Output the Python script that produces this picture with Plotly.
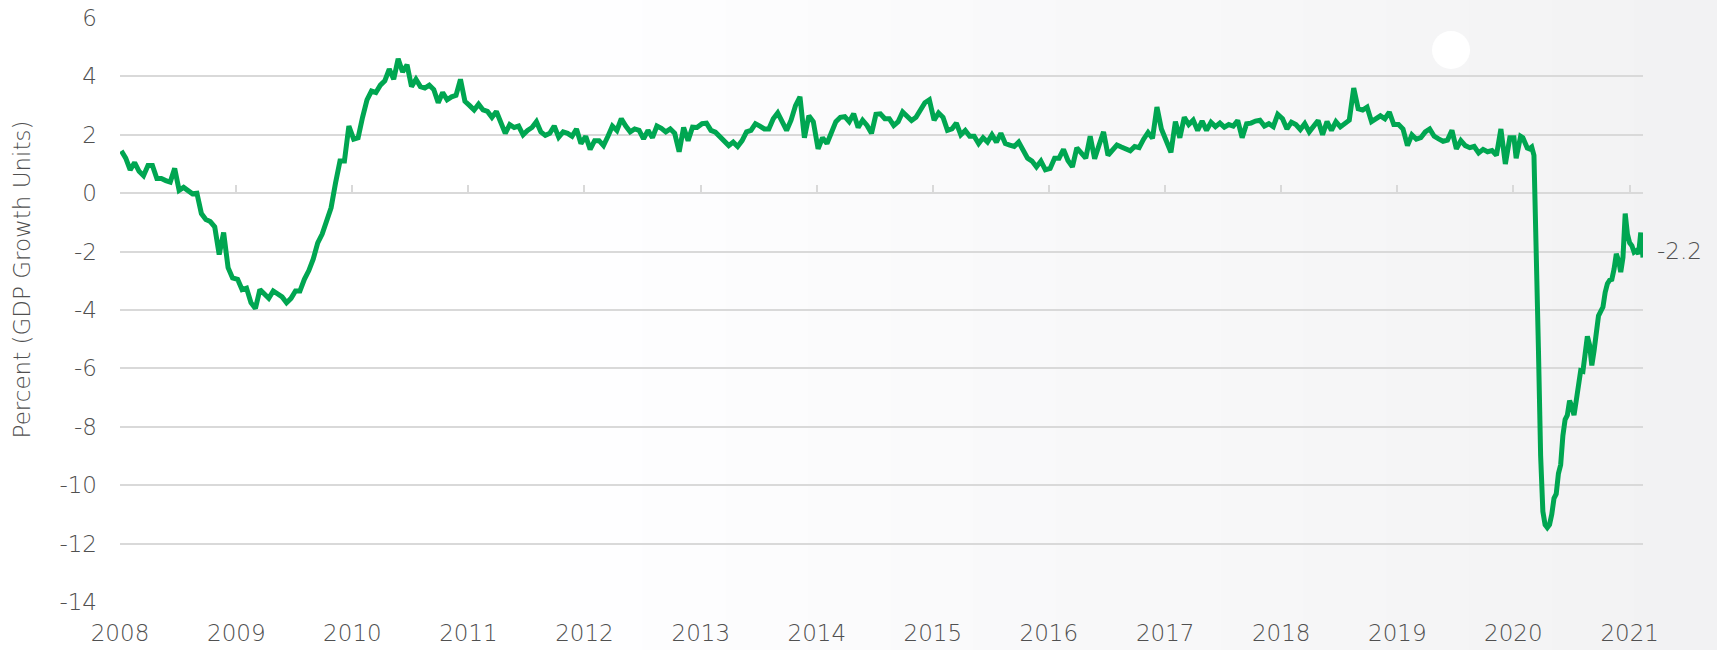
import pandas as pd
import plotly.graph_objects as go

# Fortnightly readings, one list per calendar year (percent, GDP growth units)
v2008 = [1.45, 1.2, 0.8, 1.05, 0.75, 0.6, 0.95, 0.95, 0.5, 0.5, 0.43, 0.38, 0.85,
         0.1, 0.2, 0.1, -0.02, 0.0, -0.7, -0.9, -0.97, -1.15, -2.1, -1.35, -2.55, -2.9]
v2009 = [-2.95, -3.3, -3.25, -3.75, -3.95, -3.3, -3.45, -3.6, -3.35, -3.45, -3.55, -3.75, -3.6,
         -3.35, -3.35, -2.95, -2.65, -2.25, -1.7, -1.4, -0.9, -0.5, 0.35, 1.1, 1.1, 2.3]
v2010 = [1.85, 1.9, 2.6, 3.2, 3.5, 3.45, 3.7, 3.85, 4.25, 3.9, 4.6, 4.15, 4.4,
         3.65, 3.9, 3.65, 3.6, 3.7, 3.55, 3.1, 3.45, 3.2, 3.3, 3.35, 3.9, 3.15]
v2011 = [3.0, 2.85, 3.05, 2.85, 2.8, 2.6, 2.8, 2.45, 2.05, 2.35, 2.25, 2.3, 2.0,
         2.15, 2.25, 2.45, 2.1, 1.98, 2.05, 2.3, 1.92, 2.1, 2.05, 1.95, 2.2, 1.7]
v2012 = [1.95, 1.5, 1.8, 1.8, 1.63, 1.95, 2.3, 2.15, 2.55, 2.3, 2.1, 2.2, 2.15,
         1.86, 2.15, 1.9, 2.3, 2.22, 2.1, 2.2, 2.05, 1.42, 2.25, 1.8, 2.26, 2.25]
v2013 = [2.38, 2.4, 2.15, 2.09, 1.95, 1.82, 1.63, 1.75, 1.6, 1.8, 2.1, 2.15, 2.38,
         2.3, 2.2, 2.2, 2.55, 2.75, 2.49, 2.15, 2.5, 3.0, 3.3, 1.9, 2.65, 2.45]
v2014 = [1.52, 1.9, 1.7, 2.05, 2.45, 2.6, 2.62, 2.45, 2.72, 2.25, 2.5, 2.32, 2.05,
         2.7, 2.72, 2.55, 2.55, 2.32, 2.45, 2.78, 2.66, 2.49, 2.6, 2.89, 3.1, 3.2]
v2015 = [2.5, 2.75, 2.6, 2.15, 2.2, 2.4, 2.0, 2.15, 1.95, 1.95, 1.7, 1.9, 1.75,
         2.0, 1.75, 2.05, 1.7, 1.65, 1.6, 1.75, 1.45, 1.2, 1.1, 0.9, 1.1, 0.8]
v2016 = [0.85, 1.2, 1.2, 1.5, 1.12, 0.9, 1.55, 1.35, 1.2, 1.95, 1.18, 1.65, 2.1,
         1.3, 1.46, 1.65, 1.58, 1.52, 1.45, 1.6, 1.56, 1.85, 2.08, 1.88, 2.95, 2.2]
v2017 = [1.75, 1.4, 2.45, 1.9, 2.6, 2.35, 2.5, 2.15, 2.47, 2.15, 2.43, 2.28, 2.4,
         2.26, 2.35, 2.3, 2.49, 1.9, 2.38, 2.4, 2.47, 2.5, 2.3, 2.38, 2.28, 2.7]
v2018 = [2.55, 2.2, 2.43, 2.35, 2.18, 2.38, 2.1, 2.3, 2.49, 2.0, 2.45, 2.15, 2.45,
         2.27, 2.38, 2.5, 3.6, 2.89, 2.85, 2.95, 2.45, 2.55, 2.65, 2.55, 2.78, 2.35]
v2019 = [2.35, 2.2, 1.63, 2.0, 1.85, 1.9, 2.1, 2.2, 1.95, 1.86, 1.78, 1.82, 2.15,
         1.52, 1.8, 1.63, 1.56, 1.6, 1.38, 1.5, 1.42, 1.46, 1.3, 2.2, 1.0, 1.9]

# Weekly readings from January 2020 onwards
weekly_start = "2020-01-03"
v2020_21 = [1.9, 1.2, 1.65, 1.95, 1.9, 1.69, 1.55, 1.52, 1.58, 1.3,
            -1.5, -5.3, -9.0, -10.9, -11.35, -11.45, -11.35, -11.0, -10.45, -10.3,
            -9.6, -9.3, -8.3, -7.75, -7.6, -7.1, -7.3, -7.6, -7.1, -6.5,
            -6.08, -6.1, -5.5, -4.9, -5.2, -5.9, -5.4, -4.7, -4.2, -4.05,
            -3.9, -3.4, -3.1, -2.98, -2.95, -2.6, -2.08, -2.3, -2.7, -2.2,
            -0.7, -1.4, -1.7, -1.8, -2.02, -1.97, -2.08, -1.35, -2.2]

tick_years = list(range(2008, 2022))
y_ticks = list(range(-14, 7, 2))

yearly = {2008: v2008, 2009: v2009, 2010: v2010, 2011: v2011, 2012: v2012,
          2013: v2013, 2014: v2014, 2015: v2015, 2016: v2016, 2017: v2017,
          2018: v2018, 2019: v2019}

dates, values = [], []
for yr, vals in yearly.items():
    dates += list(pd.date_range(f"{yr}-01-05", periods=len(vals), freq="14D"))
    values += vals
dates += list(pd.date_range(weekly_start, periods=len(v2020_21), freq="7D"))
values += v2020_21

GREEN = "#00A651"
GRID = "#d9d9d9"
TEXT = "#505050"
FONT = "'DejaVu Sans', sans-serif"
TICK_SIZE = 23
TEXT_FONT = dict(size=TICK_SIZE, color=TEXT, family=FONT, weight=300)

fig = go.Figure()
fig.add_trace(go.Scatter(x=dates, y=values, mode="lines",
                         line=dict(color=GREEN, width=5),
                         hoverinfo="x+y", showlegend=False))
# companion trace that carries the tick axis drawn along the zero line
fig.add_trace(go.Scatter(x=dates, y=values, xaxis="x2", yaxis="y", mode="lines",
                         line=dict(width=0), hoverinfo="skip", showlegend=False))

x_start = pd.Timestamp(f"{tick_years[0]}-01-01")
x_end = dates[-1]
y_min, y_max = y_ticks[0], y_ticks[-1]
year_ticks = [pd.Timestamp(f"{y}-01-01") for y in tick_years]

fig.update_layout(
    width=1717, height=650,
    margin=dict(l=120, r=74, t=18, b=48, autoexpand=False),
    paper_bgcolor="white", plot_bgcolor="rgba(0,0,0,0)",
    font=TEXT_FONT,
    xaxis=dict(range=[x_start, x_end], showgrid=False, zeroline=False, showline=False,
               automargin=False,
               tickvals=year_ticks, ticktext=[str(y) for y in tick_years],
               ticks="outside", ticklen=10, tickcolor="rgba(0,0,0,0)",
               tickfont=TEXT_FONT),
    xaxis2=dict(overlaying="x", matches="x", anchor="free", automargin=False,
                position=(0 - y_min) / (y_max - y_min), side="bottom",
                showgrid=False, zeroline=False, showline=False, showticklabels=False,
                tickvals=year_ticks,
                ticks="inside", ticklen=8, tickwidth=1.5, tickcolor=GRID),
    yaxis=dict(range=[y_min, y_max], tickvals=y_ticks, automargin=False,
               ticktext=[str(v) for v in y_ticks],
               showgrid=True, gridcolor=GRID,
               gridwidth=1.5, zeroline=False, showline=False, ticks="",
               ticklabelstandoff=22, tickfont=TEXT_FONT),
)

# axis title
fig.add_annotation(text="Percent (GDP Growth Units)", textangle=-90,
                   xref="paper", yref="paper", x=-0.0645, y=0.552,
                   xanchor="center", yanchor="middle", showarrow=False,
                   font=dict(size=23, color=TEXT, family=FONT, weight=300))

# latest value label
fig.add_annotation(text=f"{values[-1]:.1f}", x=dates[-1], y=values[-1],
                   xanchor="left", yanchor="middle", xshift=12, yshift=6,
                   showarrow=False, font=TEXT_FONT)

# soft grey wash across the right-hand side of the background
n_strips = 14
left_px, right_px = 560, 1717
for i in range(n_strips):
    x0 = left_px + (right_px - left_px) * i / n_strips
    x1 = left_px + (right_px - left_px) * (i + 1) / n_strips
    shade = 254 - int(round(i * 12 / (n_strips - 1)))
    fig.add_shape(type="rect", xref="paper", yref="paper", layer="below",
                  x0=(x0 - 120) / 1523, x1=(x1 - 120) / 1523 + 0.001,
                  y0=-0.1, y1=1.05, line=dict(width=0),
                  fillcolor=f"rgb({shade},{shade},{min(shade + 1, 255)})")
fig.add_shape(type="circle", xref="paper", yref="paper", layer="below",
              x0=(1432 - 120) / 1523, x1=(1470 - 120) / 1523,
              y0=(602 - 69) / 584, y1=(602 - 31) / 584,
              line=dict(width=0), fillcolor="white")

fig.write_html("out.html")
